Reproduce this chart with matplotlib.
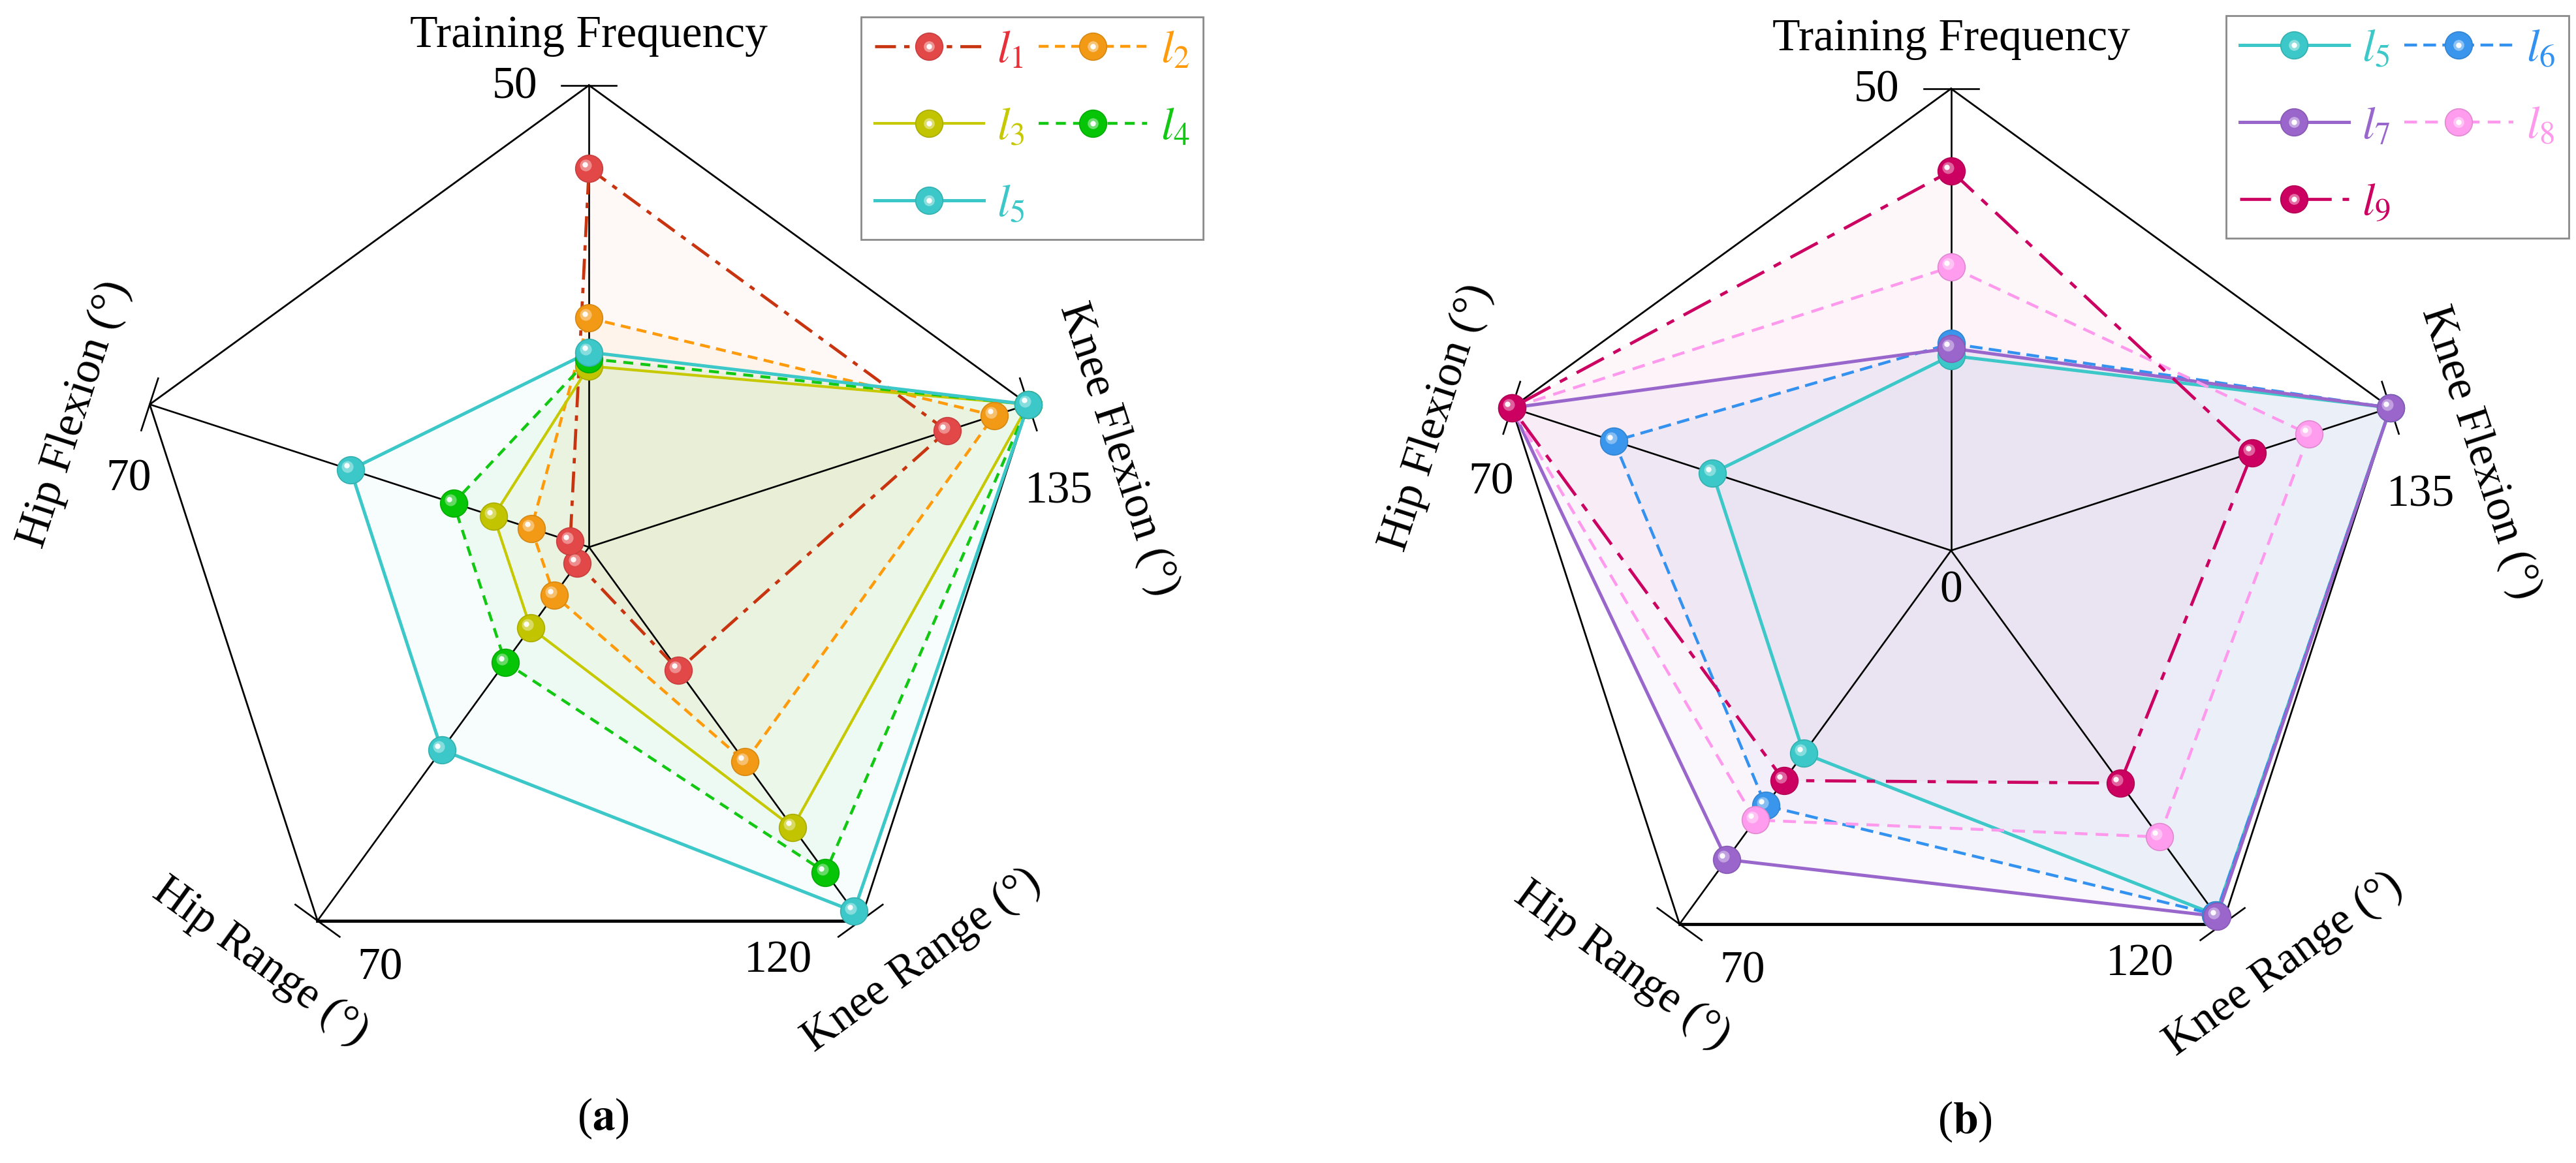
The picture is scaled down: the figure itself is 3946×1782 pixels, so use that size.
import numpy as np
import matplotlib
matplotlib.use('Agg')
import matplotlib.pyplot as plt
from matplotlib.lines import Line2D
from matplotlib.legend_handler import HandlerTuple
import matplotlib.transforms as mtransforms
from matplotlib.colors import to_rgb

plt.rcParams['font.family'] = 'serif'
plt.rcParams['font.serif'] = ['Liberation Serif', 'DejaVu Serif']
plt.rcParams['mathtext.fontset'] = 'stix'
plt.rcParams['lines.scale_dashes'] = False

# ---------------- data ----------------
axis_names = ['Training Frequency', 'Knee Flexion (°)', 'Knee Range (°)',
              'Hip Range (°)', 'Hip Flexion (°)']
axis_max = [50, 135, 120, 70, 70]
tick_labels = ['50', '135', '120', '70', '70']
angles_deg = [90, 18, -54, -126, 162]

series_names = ['l1', 'l2', 'l3', 'l4', 'l5', 'l6', 'l7', 'l8', 'l9']
l1 = [41.0, 110.0, 39.5, 3.0, 3.0]
l2 = [24.8, 124.5, 69.0, 9.0, 9.2]
l3 = [19.6, 135.0, 90.0, 15.1, 15.2]
l4 = [20.4, 135.0, 104.5, 21.6, 21.6]
l5 = [21.1, 135.0, 117.0, 38.0, 38.0]
l6 = [22.4, 135.0, 117.0, 47.8, 53.7]
l7 = [21.9, 135.0, 117.5, 57.9, 70.0]
l8 = [30.7, 110.0, 92.0, 50.5, 70.0]
l9 = [41.1, 92.6, 74.7, 43.1, 70.0]
values = {'l1': l1, 'l2': l2, 'l3': l3, 'l4': l4, 'l5': l5,
          'l6': l6, 'l7': l7, 'l8': l8, 'l9': l9}

panel_a_series = ['l1', 'l2', 'l3', 'l4', 'l5']
panel_b_series = ['l5', 'l6', 'l7', 'l8', 'l9']

# ---------------- styles ----------------
line_colors = {'l1': '#C8340F', 'l2': '#FF9A0A', 'l3': '#C6C800', 'l4': '#12C812',
               'l5': '#3CC8C8', 'l6': '#3392F0', 'l7': '#9966CC', 'l8': '#FF99EE',
               'l9': '#CC0060'}
marker_colors = {'l1': '#E24848', 'l2': '#F29A16', 'l3': '#C2C400', 'l4': '#06C406',
                 'l5': '#3CC8C8', 'l6': '#3A96EC', 'l7': '#9A66CC', 'l8': '#FF9CEE',
                 'l9': '#CC0060'}
label_colors = {'l1': '#E8303A', 'l2': '#FF9A0A', 'l3': '#C6C800', 'l4': '#12C812',
                'l5': '#3CC8C8', 'l6': '#3392F0', 'l7': '#9966CC', 'l8': '#FF99EE',
                'l9': '#CC0060'}
fill_colors = {'l1': '#F08040', 'l2': '#FF9A0A', 'l3': '#C6C800', 'l4': '#12C812',
               'l5': '#3CC8C8', 'l6': '#3392F0', 'l7': '#9966CC', 'l8': '#FF99EE',
               'l9': '#CC0060'}
fill_alpha = {'l1': 0.045, 'l2': 0.045, 'l3': 0.045, 'l4': 0.04, 'l5': 0.04,
              'l6': 0.04, 'l7': 0.045, 'l8': 0.04, 'l9': 0.03}
line_styles = {'l1': (0, (23, 9, 6, 9)), 'l2': (0, (11, 7)), 'l3': '-',
               'l4': (0, (11, 8)), 'l5': '-', 'l6': (0, (14, 7)), 'l7': '-',
               'l8': (0, (14, 9)), 'l9': (0, (34, 12, 9, 12))}
line_widths = {'l1': 3.4, 'l2': 3.2, 'l3': 3.0, 'l4': 3.2, 'l5': 3.6,
               'l6': 3.2, 'l7': 3.6, 'l8': 3.2, 'l9': 3.4}

W, H = 3946, 1782
DPI = 100
R_PX = 707.6
L_PX = 1150
FS = 50

fig = plt.figure(figsize=(W / DPI, H / DPI), dpi=DPI)

th = np.deg2rad(angles_deg)
vx, vy = np.cos(th), np.sin(th)


def blend(c, w):
    c = np.array(to_rgb(c))
    return tuple(c + (1 - c) * w)


def darken(c, f):
    c = np.array(to_rgb(c))
    return tuple(c * f)


def make_axes(cx, cy):
    ax = fig.add_axes([(cx - L_PX) / W, (H - cy - L_PX) / H, 2 * L_PX / W, 2 * L_PX / H])
    lim = L_PX / R_PX
    ax.set_xlim(-lim, lim)
    ax.set_ylim(-lim, lim)
    ax.axis('off')
    return ax


def draw_frame(ax, show_zero):
    for i in range(5):
        ax.plot([0, vx[i]], [0, vy[i]], color='black', lw=1.9, zorder=2,
                solid_capstyle='butt')
    ax.plot(np.r_[vx, vx[0]], np.r_[vy, vy[0]], color='black', lw=2.0, zorder=2)
    ax.plot(vx[2:4], vy[2:4], color='black', lw=3.4, zorder=2)
    t = 42 / R_PX
    for i in range(5):
        px, py = -vy[i], vx[i]
        ax.plot([vx[i] - px * t, vx[i] + px * t], [vy[i] - py * t, vy[i] + py * t],
                color='black', lw=1.9, zorder=2)
    # tick labels (offsets relative to the vertex, in units of the radius)
    offs = [(-0.161, -0.004), (0.066, -0.189), (-0.179, -0.088),
            (0.136, -0.103), (-0.045, -0.163)]
    for i in range(5):
        ax.text(vx[i] + offs[i][0], vy[i] + offs[i][1], tick_labels[i],
                fontsize=FS, ha='center', va='center', color='black')
    if show_zero:
        ax.text(0, -0.088, '0', fontsize=FS, ha='center', va='center')
    # axis names
    name_pos = [(0.0, 1.107, 0), (1.145, 0.212, -72), (0.721, -0.896, 36),
                (-0.712, -0.899, -36), (-1.114, 0.288, 72)]
    for i in range(5):
        x, y, rot = name_pos[i]
        ax.text(x, y, axis_names[i], fontsize=FS, ha='center', va='center',
                rotation=rot, rotation_mode='anchor')


def draw_series(ax, names):
    hl1 = mtransforms.offset_copy(ax.transData, fig=fig, x=-3.5, y=3.5, units='points')
    hl2 = mtransforms.offset_copy(ax.transData, fig=fig, x=-4.5, y=4.5, units='points')
    for k, n in enumerate(names):
        r = np.array(values[n]) / np.array(axis_max)
        x, y = r * vx, r * vy
        ax.fill(x, y, color=fill_colors[n], alpha=fill_alpha[n], lw=0, zorder=1)
    for k, n in enumerate(names):
        r = np.array(values[n]) / np.array(axis_max)
        x, y = r * vx, r * vy
        z = 3 + k * 0.1
        ax.plot(np.r_[x, x[0]], np.r_[y, y[0]], color=line_colors[n],
                lw=line_widths[n], linestyle=line_styles[n], zorder=z)
    for k, n in enumerate(names):
        r = np.array(values[n]) / np.array(axis_max)
        x, y = r * vx, r * vy
        z = 5 + k * 0.1
        mc = marker_colors[n]
        ax.plot(x, y, ls='none', marker='o', ms=30, mfc=mc, mec=darken(mc, 0.88),
                mew=1.2, zorder=z)
        ax.plot(x, y, ls='none', marker='o', ms=13, mfc=blend(mc, 0.45), mec='none',
                alpha=0.85, zorder=z + 0.01, transform=hl1)
        ax.plot(x, y, ls='none', marker='o', ms=6, mfc='white', mec='none',
                alpha=0.95, zorder=z + 0.02, transform=hl2)


def legend_handles(n):
    mc = marker_colors[n]
    h_line = Line2D([], [], color=line_colors[n], lw=line_widths[n],
                    linestyle=line_styles[n])
    h_m = Line2D([], [], ls='none', marker='o', ms=30, mfc=mc, mec=darken(mc, 0.88), mew=1.2)
    h_h = Line2D([], [], ls='none', marker='o', ms=12, mfc=blend(mc, 0.5), mec='none', alpha=0.85)
    h_w = Line2D([], [], ls='none', marker='o', ms=6, mfc='white', mec='none')
    return (h_line, h_m, h_h, h_w)


def draw_legend(ax, order, x0, y0):
    handles = [legend_handles(n) for n in order]
    labels = ['$l_{%s}$' % n[1:] for n in order]
    leg = ax.legend(handles, labels, loc='upper left',
                    bbox_to_anchor=(x0 / W, 1 - y0 / H), bbox_transform=fig.transFigure,
                    ncol=2, fontsize=FS, frameon=True, fancybox=False, framealpha=1,
                    edgecolor='#8A8A8A', handlelength=2.4, handletextpad=0.3,
                    columnspacing=0.3, labelspacing=0.78, borderpad=0.3,
                    borderaxespad=0, labelcolor=[label_colors[n] for n in order],
                    handler_map={tuple: HandlerTuple(ndivide=1)})
    leg.get_frame().set_linewidth(2.0)
    return leg


# panel (a)
ax_a = make_axes(902.3, 838.3)
draw_frame(ax_a, show_zero=False)
draw_series(ax_a, panel_a_series)
draw_legend(ax_a, ['l1', 'l3', 'l5', 'l2', 'l4'], 1319, 26)
ax_a.text(0.03, -1.238, r'($\mathbf{a}$)', fontsize=FS, ha='center', va='center')

# panel (b)
ax_b = make_axes(2988.7, 843.5)
draw_frame(ax_b, show_zero=True)
draw_series(ax_b, panel_b_series)
draw_legend(ax_b, ['l5', 'l7', 'l9', 'l6', 'l8'], 3410, 24)
ax_b.text(0.03, -1.238, r'($\mathbf{b}$)', fontsize=FS, ha='center', va='center')

fig.savefig('out.png', dpi=DPI)
